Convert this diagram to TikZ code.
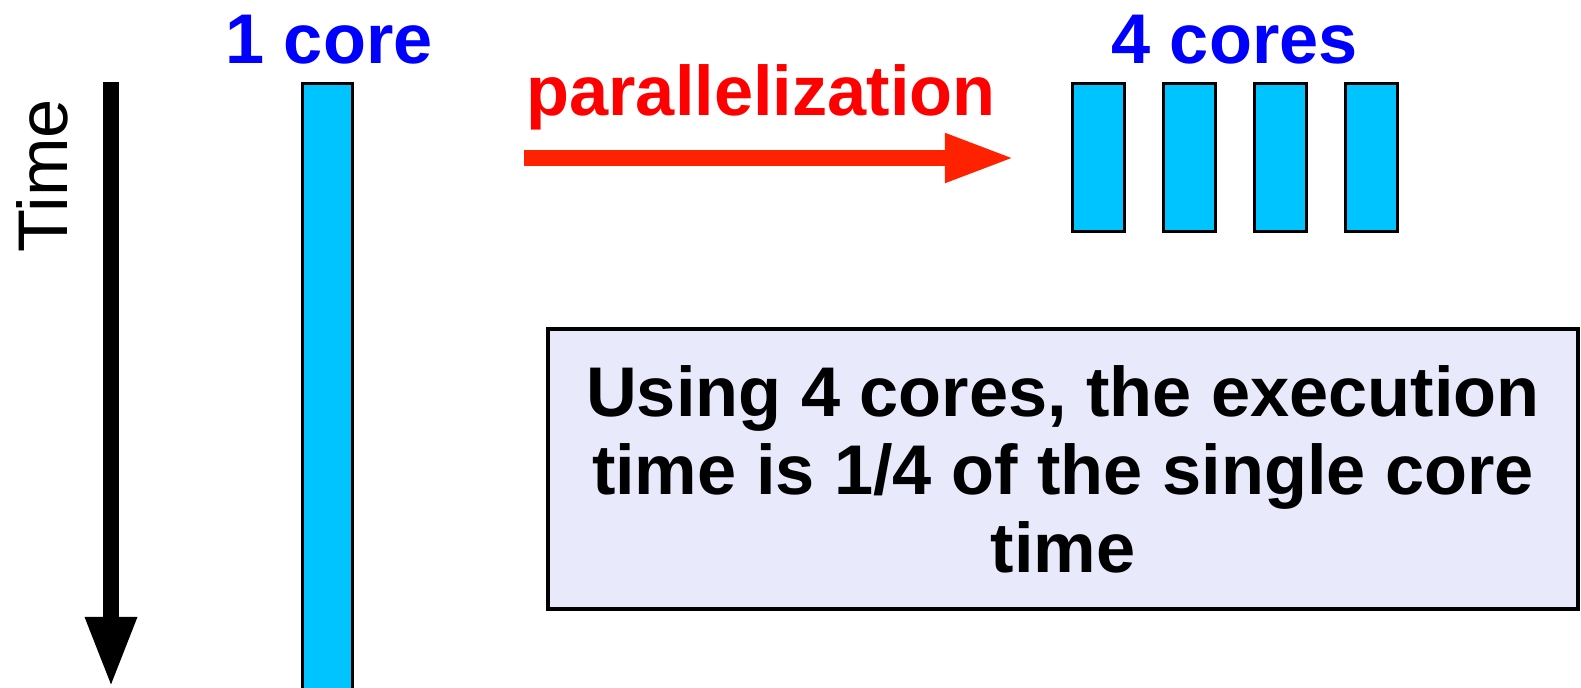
\documentclass[tikz,border=0pt]{standalone}
\usepackage{fontspec}
\setmainfont{Liberation Sans}
\usepackage{xcolor}
\usetikzlibrary{positioning}
\usetikzlibrary{arrows.meta}
\definecolor{corecyan}{RGB}{0,196,255}
\definecolor{coreblue}{RGB}{0,0,255}
\definecolor{parared}{RGB}{255,34,0}
\definecolor{notefill}{RGB}{233,233,252}
\tikzset{>={Triangle}}
\tikzset{
  core/.style={draw=black, line width=0.9pt, fill=corecyan},
  corelabel/.style={text=coreblue, font=\bfseries\fontsize{20}{24}\selectfont, anchor=base},
  notebox/.style={draw=black, line width=1.2pt, fill=notefill, align=center,
    minimum width=10.3cm, minimum height=2.8cm, font=\bfseries\fontsize{20}{22.2}\selectfont}
}

\begin{document}
\begin{tikzpicture}[x=0.01cm, y=-0.01cm, inner sep=0pt, outer sep=0pt]
\useasboundingbox (0,0) rectangle (1581,687);
\clip (0,0) rectangle (1581,687);
% time axis
\coordinate (ttop) at (111,82);
\coordinate (tbot) at (111,687);
\draw[line width=0.15cm, -{Triangle[width=0.48cm, length=0.7cm]}] (ttop) -- (tbot);
\node[rotate=90, font=\fontsize{20}{24}\selectfont] (time) at (42,176) {Time};

% single core
\node[corelabel] (one) at (329,63) {1 core};
\draw[core] (302.5,83.5) rectangle (352.5,720);

% parallelization
\node[text=red, font=\bfseries\fontsize{20}{24}\selectfont, anchor=base] (par) at (761,115) {parallelization};
\coordinate (pstart) at (524,158);
\coordinate (pend) at (1015,158);
\draw[parared, line width=0.16cm, -{Triangle[width=0.45cm, length=0.7cm]}] (pstart) -- (pend);

% four cores
\node[corelabel] (four) at (1234.5,63) {4 cores};
\foreach \i in {0,...,3}
  \draw[core] (1072.5+\i*91,83.5) rectangle (1124.5+\i*91,231.5);

% note
\node[notebox] (note) at (1063,469) {Using 4 cores, the execution\\time is 1/4 of the single core\\time};
\end{tikzpicture}
\end{document}
